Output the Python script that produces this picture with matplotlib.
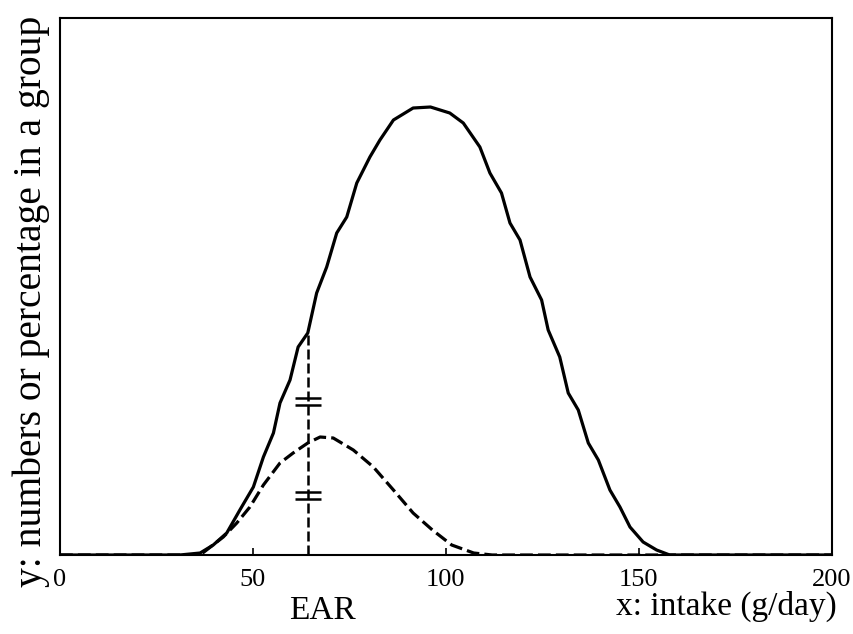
import matplotlib
matplotlib.use('Agg')
import matplotlib.pyplot as plt

# total group intake distribution (x in g/day, y in arbitrary units)
total_x = [0, 31, 36.3, 39.7, 43.2, 46.6, 50.1, 52.7, 55.3, 57.0, 59.6, 61.7, 64.2,
           66.5, 69.1, 71.7, 74.3, 76.9, 80.3, 82.9, 86.4, 91.5, 96.0, 101.0,
           104.5, 108.8, 111.4, 114.4, 116.6, 119.2, 121.8, 124.8, 126.5, 129.5,
           131.7, 134.3, 136.9, 139.5, 142.5, 145.1, 147.7, 151.1, 154.6, 158.0, 200]
total_y = [0, 0, 2, 10, 22, 45, 68, 98, 122, 152, 175, 208, 222,
           262, 288, 322, 338, 372, 398, 415, 435, 447, 448, 442,
           432, 408, 382, 362, 332, 315, 278, 255, 225, 198,
           162, 145, 112, 95, 65, 48, 28, 13, 5, 0, 0]

# subgroup below requirement (dashed)
sub_x = [0, 36.3, 42.3, 45.8, 49.2, 52.7, 57.0, 60.4, 64.2, 67.4, 70.8, 76.0,
         81.2, 86.4, 91.5, 96.5, 101.5, 107.2, 112, 200]
sub_y = [0, 0, 18, 32, 48, 70, 92, 102, 112, 118, 117, 105,
         88, 65, 42, 25, 10, 2, 0, 0]

ear = 64.2
ear_top = 222
hash_levels = [(157, 150), (63, 56)]

xticks = [0, 50, 100, 150, 200]

plt.rcParams['font.family'] = ['Liberation Serif', 'DejaVu Serif']

fig = plt.figure(figsize=(8.54, 6.34), dpi=100)
ax = fig.add_axes([0.0703, 0.1246, 0.9037, 0.847])

ax.plot(total_x, total_y, color='black', lw=2.3, solid_joinstyle='round')
ax.plot(sub_x, sub_y, color='black', lw=2.3, dashes=(4, 1.6))
ax.plot([ear, ear], [0, ear_top], color='black', lw=1.8, dashes=(4, 1.6))
for y1, y2 in hash_levels:
    ax.hlines([y1, y2], ear - 3.3, ear + 3.4, color='black', lw=1.8)

ax.set_xlim(0, 200)
ax.set_ylim(0, 537)
ax.set_xticks(xticks)
ax.set_xticklabels([str(t) for t in xticks], fontsize=19)
ax.set_yticks([])
ax.tick_params(axis='x', direction='in', length=5, width=1.2, pad=10)
for s in ax.spines.values():
    s.set_linewidth(1.5)

fig.text(0.0585, 0.525, 'y: numbers or percentage in a group', fontsize=28.5,
         rotation=90, ha='right', va='center')
fig.text(0.98, 0.03, 'x: intake (g/day)', fontsize=24, ha='right', va='baseline')
ax.text(68, -40, 'EAR', fontsize=24, ha='center', va='top')

fig.savefig('out.png', dpi=100)
